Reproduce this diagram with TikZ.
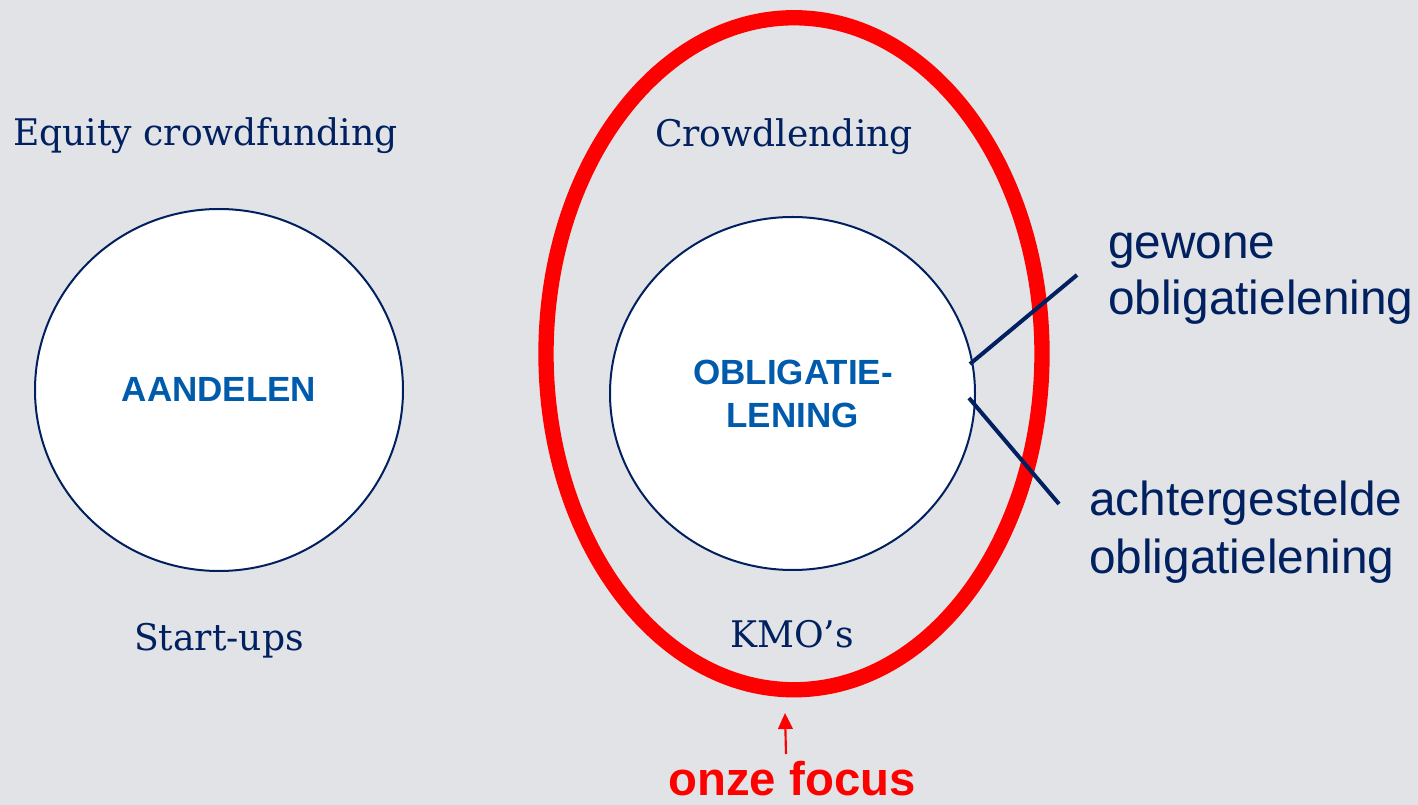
\documentclass[tikz,border=0pt]{standalone}
\usepackage{fontspec}
\setmainfont{DejaVu Serif}
\newfontfamily\arialfont{Liberation Sans}
\usetikzlibrary{arrows.meta}
\definecolor{bgc}{HTML}{E1E3E6}
\definecolor{navy}{HTML}{002060}
\definecolor{midblue}{HTML}{005BAC}
\definecolor{redc}{HTML}{FF0000}
\tikzset{
  slab/.style={text=navy, inner sep=0pt, font=\fontsize{27.5pt}{33pt}\selectfont},
  sanslbl/.style={text=navy, inner sep=0pt, anchor=base west, font=\arialfont\fontsize{35.8pt}{42pt}\selectfont},
  inlbl/.style={text=midblue, inner sep=0pt, anchor=base, font=\arialfont\bfseries\fontsize{26.25pt}{32pt}\selectfont},
  ring/.style={draw=navy, fill=white, line width=1.5pt},
  tick/.style={draw=navy, line width=3pt},
}
\begin{document}
\begin{tikzpicture}[x=0.75pt,y=-0.75pt]
\fill[bgc] (0,0) rectangle (1418,805);
\useasboundingbox (0,0) rectangle (1418,805);
% circles
\draw[ring] (219,390) ellipse [x radius=184, y radius=181];
\draw[ring] (792.5,393.5) ellipse [x radius=182.5, y radius=176.5];
% red ellipse
\draw[redc, line width=11.5pt] (794,353.75) ellipse [x radius=248, y radius=336];
% texts
\node[slab, anchor=base] (eq) at (205.5,146) {\scalebox{0.985}[1]{Equity crowdfunding}};
\node[slab, anchor=base] (start) at (219,650) {\scalebox{0.985}[1]{Start-ups}};
\node[slab, anchor=base] (crowd) at (784,147) {\scalebox{0.985}[1]{Crowdlending}};
\node[slab, anchor=base] (kmo) at (792,647) {\scalebox{0.985}[1]{KMO’s}};
\node[inlbl] (aand) at (219,402) {AANDELEN};
\node[inlbl] (obl1) at (793,385) {OBLIGATIE-};
\node[inlbl] (obl2) at (792.5,428) {LENING};
\node[sanslbl] (gew1) at (1108,259) {gewone};
\node[sanslbl] (gew2) at (1108,315) {obligatielening};
\node[sanslbl] (ach1) at (1089,516) {achtergestelde};
\node[sanslbl] (ach2) at (1089,573) {obligatielening};
\node[text=redc, inner sep=0pt, anchor=base, font=\arialfont\bfseries\fontsize{35.5pt}{42pt}\selectfont] (focus) at (792,795) {onze focus};
% connectors
\coordinate (a1) at (970,364);
\coordinate (a2) at (1077,275);
\coordinate (b1) at (969,398);
\coordinate (b2) at (1059,504);
\draw[tick] (a1) -- (a2);
\draw[tick] (b1) -- (b2);
\coordinate (f1) at (786,754);
\coordinate (f2) at (785,713);
\draw[redc, line width=1.6pt, -{Triangle[length=12pt,width=11pt]}] (f1) -- (f2);
\end{tikzpicture}
\end{document}
